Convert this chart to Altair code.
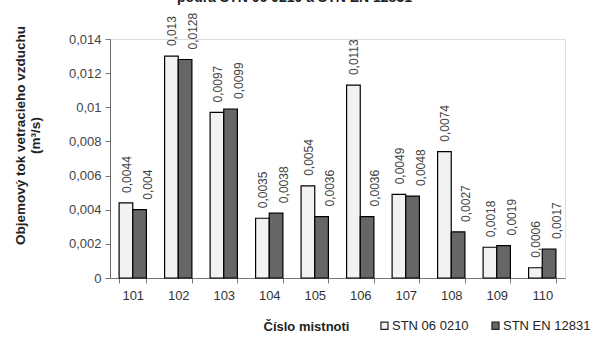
import altair as alt
import pandas as pd

rooms = ["101", "102", "103", "104", "105", "106", "107", "108", "109", "110"]
stn_06_0210 = [0.0044, 0.013, 0.0097, 0.0035, 0.0054, 0.0113, 0.0049, 0.0074, 0.0018, 0.0006]
stn_en_12831 = [0.004, 0.0128, 0.0099, 0.0038, 0.0036, 0.0036, 0.0048, 0.0027, 0.0019, 0.0017]
series_names = ["STN 06 0210", "STN EN 12831"]
y_ticks = [0, 0.002, 0.004, 0.006, 0.008, 0.01, 0.012, 0.014]

rows = []
for r, a, b in zip(rooms, stn_06_0210, stn_en_12831):
    for s, v in zip(series_names, (a, b)):
        rows.append({"room": r, "series": s, "value": v, "label": str(v).replace(".", ",")})
df = pd.DataFrame(rows)

FONT = "Liberation Sans"

x_enc = alt.X(
    "room:N", sort=rooms,
    scale=alt.Scale(paddingInner=0.4, paddingOuter=0.2),
    axis=alt.Axis(
        title="Číslo mistnoti", labelAngle=0, tickBand="extent",
        labelFontSize=13, labelColor="#333", labelFont=FONT, labelPadding=6,
        tickSize=5, tickColor="#777", domainColor="#777",
        titleFont=FONT, titleFontSize=13, titleFontWeight="bold", titleColor="#222",
        titleX=196, titleY=48, titleBaseline="middle", titleAlign="center",
    ),
)
xo_enc = alt.XOffset("series:N", sort=series_names, scale=alt.Scale(paddingInner=0, paddingOuter=0))
y_enc = alt.Y(
    "value:Q",
    scale=alt.Scale(domain=[0, 0.014], nice=False),
    axis=alt.Axis(
        values=y_ticks, grid=False, labelOverlap=False, labelBound=False,
        labelExpr="datum.value == 0 ? '0' : replace(format(datum.value, '.3~f'), '.', ',')",
        labelFontSize=13, labelColor="#444", labelFont=FONT, labelPadding=4,
        tickSize=5, tickColor="#777", domainColor="#666",
        title=["Objemový tok vetracieho vzduchu", "(m³/s)"],
        titleFont=FONT, titleFontSize=13.5, titleFontWeight="bold", titleColor="#222",
        titleX=-97, titleY=96, titleAlign="center", titleBaseline="top", titleAngle=270,
    ),
)

bars = alt.Chart(df).mark_bar(stroke="black", strokeWidth=1.2).encode(
    x=x_enc, xOffset=xo_enc, y=y_enc,
    color=alt.Color(
        "series:N", sort=series_names,
        scale=alt.Scale(domain=series_names, range=["#f2f2f2", "#666666"]),
        legend=alt.Legend(
            title=None, orient="none", direction="horizontal",
            legendX=268, legendY=280, symbolType="square", symbolSize=50,
            symbolStrokeColor="#222", symbolStrokeWidth=1.2,
            labelFont=FONT, labelFontSize=13, labelColor="#222",
            labelOffset=1, columnPadding=20, padding=0, labelLimit=200,
        ),
    ),
)

def labels(series, dy):
    return alt.Chart(df).transform_filter(alt.datum.series == series).mark_text(
        angle=270, align="left", baseline="middle", dx=10, dy=dy,
        fontSize=12, font=FONT, color="#444",
    ).encode(x=x_enc, xOffset=xo_enc, y=y_enc, text="label:N")

chart = alt.layer(bars, labels(series_names[0], 1), labels(series_names[1], 8)).properties(
    width=455, height=239,
    title=alt.TitleParams(
        "podľa STN 06 0210 a STN EN 12831", font=FONT, fontSize=14, fontWeight="bold",
        color="#222", anchor="middle", dx=-43, offset=0, baseline="alphabetic", dy=3,
    ),
    autosize=alt.AutoSizeParams(type="none"),
    padding={"left": 110, "top": 39, "right": 36, "bottom": 61},
).configure_view(stroke="#888", strokeWidth=1).configure(background="white").configure_axisY(labelOverlap=False)

chart.save("out.html", embed_options={"renderer": "svg", "actions": False})
